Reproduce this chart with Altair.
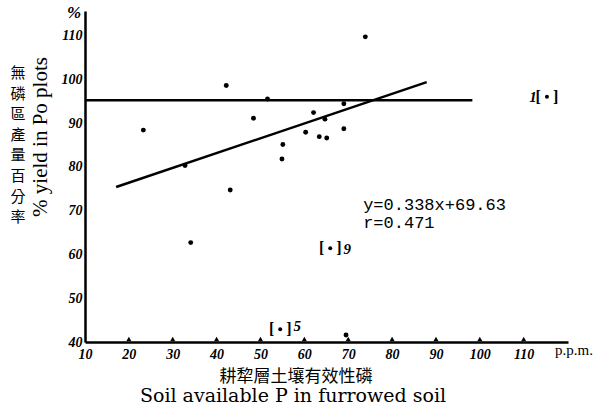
import altair as alt
import pandas as pd

# Soil available P (ppm) against % yield in Po plots
soil_p = [23.3, 32.8, 34.1, 42.2, 43.1, 48.4, 51.6, 54.9, 55.1, 60.3, 62.1,
          63.4, 64.7, 65.1, 69.0, 69.0, 73.9, 69.5]
yield_pct = [88.4, 80.3, 62.7, 98.6, 74.7, 91.1, 95.5, 81.8, 85.1, 87.9, 92.4,
             86.9, 90.9, 86.6, 94.4, 88.7, 109.7, 41.6]

# Bracketed (excluded) plots with their plot numbers
br_p = [115.3, 65.9, 54.5]
br_yield = [96.0, 61.4, 42.9]
br_label = ["1", "9", "5"]
# label offset from the bracketed point, in pixels (dy > 0 is upward)
br_label_dx = [-14, 17, 17]
br_label_dy = [0, -1, 3]

# Regression y = 0.338x + 69.63, drawn over the observed range
slope, intercept = 0.338, 69.63
fit_range = [17.1, 87.9]
fit_text = ["y=0.338x+69.63", "r=0.471"]

# Horizontal reference level
ref_level = 95.2
ref_range = [10, 98.3]

x_ticks = [10, 20, 30, 40, 50, 60, 70, 80, 90, 100, 110]
y_ticks = [40, 50, 60, 70, 80, 90, 100, 110]

W, H = 483, 331
X_DOM = [10, 120.1]
Y_DOM = [40, 115.6]
px_per_x = W / (X_DOM[1] - X_DOM[0])
px_per_y = H / (Y_DOM[1] - Y_DOM[0])

pts = pd.DataFrame({"p": soil_p, "y": yield_pct})
brk = pd.DataFrame({"p": br_p, "y": br_yield, "lab": br_label,
                    "dx": br_label_dx, "dy": br_label_dy})
fit = pd.DataFrame({"p": fit_range, "y": [slope * v + intercept for v in fit_range]})
ref = pd.DataFrame({"p": ref_range, "y": [ref_level, ref_level]})
tick_df = pd.DataFrame({"p": x_ticks[1:], "y": [40] * (len(x_ticks) - 1)})
eq_df = pd.DataFrame({"p": [73.4, 73.4], "y": [70.1, 66.0], "t": fit_text})

xs = alt.Scale(domain=X_DOM, nice=False, zero=False)
ys = alt.Scale(domain=Y_DOM, nice=False, zero=False)

x_axis = alt.Axis(values=x_ticks, title=None, ticks=False, labelPadding=5)
y_axis = alt.Axis(values=y_ticks, title=None, ticks=False, labelPadding=3)

X = alt.X("p:Q", scale=xs, axis=x_axis)
Y = alt.Y("y:Q", scale=ys, axis=y_axis)

points = alt.Chart(pts).mark_circle(size=24, color="black", opacity=1).encode(x=X, y=Y)

fit_line = alt.Chart(fit).mark_line(color="black", strokeWidth=2.5).encode(x=X, y=Y)

ref_line = alt.Chart(ref).mark_line(color="black", strokeWidth=2.5).encode(x=X, y=Y)

# small upward tick marks sitting on the x axis
axis_ticks = alt.Chart(tick_df).mark_point(
    shape="triangle-up", filled=True, color="black", size=26, yOffset=-3,
    opacity=1
).encode(x=X, y=Y)

br_dots = alt.Chart(brk).mark_circle(size=16, color="black", opacity=1).encode(x=X, y=Y)

br_marks = alt.Chart(brk).mark_text(
    text="[\u00a0\u00a0\u00a0]", font="Liberation Serif", fontSize=16,
    fontWeight="bold", color="black", baseline="middle"
).encode(x=X, y=Y)

br_nums = alt.Chart(brk).transform_calculate(
    lp=f"datum.p + datum.dx / {px_per_x}",
    ly=f"datum.y + datum.dy / {px_per_y}",
).mark_text(
    font="Liberation Serif", fontSize=15, fontWeight="bold",
    fontStyle="italic", color="black", baseline="middle"
).encode(
    x=alt.X("lp:Q", scale=xs, axis=x_axis),
    y=alt.Y("ly:Q", scale=ys, axis=y_axis),
    text="lab:N",
)

eq_text = alt.Chart(eq_df).mark_text(
    font="Liberation Mono", fontSize=17, color="black", align="left",
    baseline="alphabetic"
).encode(x=X, y=Y, text="t:N")


def note(txt, x, y, **kw):
    return alt.Chart(pd.DataFrame({"t": [txt]})).mark_text(color="black", **kw).encode(
        x=alt.value(x), y=alt.value(y), text="t:N")


pct = note("%", -11, 2, font="Liberation Serif", fontSize=17, fontStyle="italic",
           fontWeight="bold", baseline="middle")
ppm = note("p.p.m.", 470, 339, font="Liberation Serif", fontSize=15,
           align="left", baseline="middle")
y_title_zh = note("無\n磷\n區\n產\n量\n百\n分\n率", -67, 55, lineBreak="\n",
                  lineHeight=20.6, font="Noto Sans CJK TC", fontSize=15,
                  align="center", baseline="top")
y_title_en = note("% yield in Po plots", -44, 126, font="Liberation Serif",
                  fontSize=21, angle=270, align="center", baseline="middle")
x_title_zh = note("耕犂層土壤有效性磷", 211, 366, font="Noto Sans CJK TC",
                  fontSize=17, align="center", baseline="middle")
x_title_en = note("Soil available P in furrowed soil", 208, 391,
                  font="DejaVu Serif", fontSize=19, align="center",
                  baseline="alphabetic")

chart = alt.layer(
    ref_line, fit_line, points, axis_ticks, br_dots, br_marks, br_nums, eq_text,
    pct, ppm, y_title_zh, y_title_en, x_title_zh, x_title_en
).properties(
    width=W, height=H,
    padding={"left": 85, "top": 11, "right": 28, "bottom": 68},
    autosize=alt.AutoSizeParams(type="none"),
    background="white",
).configure_view(
    stroke=None
).configure_axis(
    grid=False,
    domainColor="black", domainWidth=2.5,
    labelFont="Liberation Serif", labelFontStyle="italic",
    labelFontWeight="bold", labelFontSize=14, labelColor="black",
    labelFlush=False,
)

chart.save("out.html", embed_options={"renderer": "svg", "actions": False})
